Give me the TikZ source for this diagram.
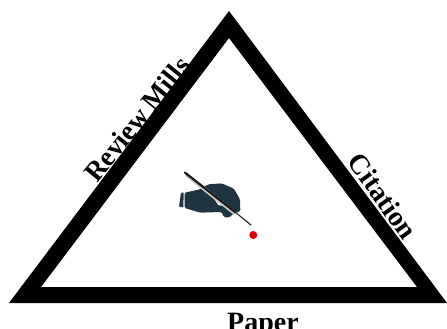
\documentclass[tikz,border=0pt]{standalone}
\usepackage{fontspec}
\setmainfont{Liberation Serif}
\definecolor{handc}{HTML}{1E3440}
\tikzset{lab/.style={inner sep=0pt,font=\fontsize{28}{28}\selectfont\bfseries,text=black}}
\begin{document}
\begin{tikzpicture}[x=1pt,y=-1pt]
\useasboundingbox (0,0) rectangle (447,329);
\clip (0,0) rectangle (447,329);
\fill[black,even odd rule] (229,11) -- (9,303) -- (447,303) -- cycle (229,38) -- (41,287) -- (417,287) -- cycle;
\node[lab,rotate=51,xscale=0.97] (rm) at (137,119) {Review Mills};
\node[lab,rotate=-54.5] (ci) at (383,196) {Citation};
\node[lab] (pa) at (263,325) {Paper};
\begin{scope}[shift={(150,150)},x=0.3333pt,y=-0.3333pt]
\fill[handc,rounded corners=1.5pt] (104,128) -- (150,118) -- (175,103) -- (215,100) -- (252,116) -- (270,148) -- (271,184) -- (248,192) -- (240,202) -- (222,202) -- (215,186) -- (150,188) -- (104,174) -- cycle;
\fill[handc,rounded corners=1pt] (93,128) -- (101,127) -- (100,173) -- (87,170) -- cycle;
\fill[white] (180,128) -- (232,170) -- (205,165) -- cycle;
\draw[gray!45!white,line width=4pt,line cap=round] (112,76) -- (250,186);
\draw[black!90,line width=2.2pt,line cap=round] (105,68) -- (255,186);
\draw[black!80,line width=1.2pt] (255,186) -- (304,226);
\fill[red!85!black] (310,255) circle[radius=12];
\end{scope}
\end{tikzpicture}
\end{document}
